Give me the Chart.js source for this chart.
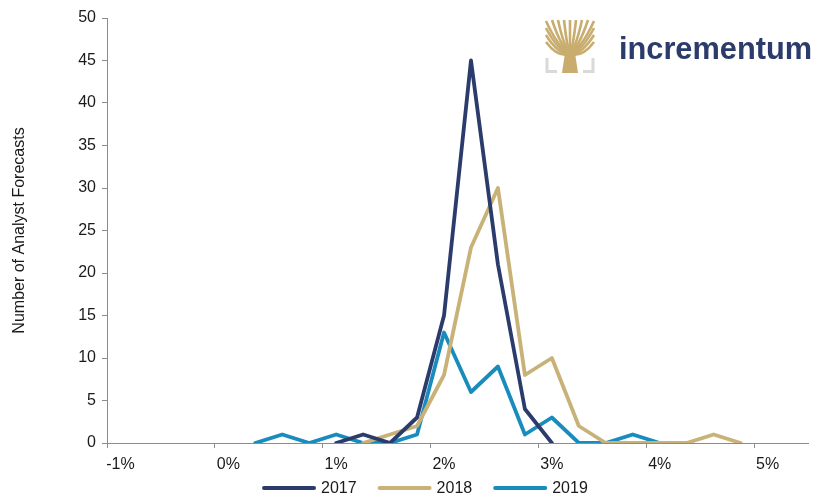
<!DOCTYPE html>
<html>
<head>
<meta charset="utf-8">
<script src="https://cdn.jsdelivr.net/npm/chart.js@4"></script>
<style>
  html, body { margin: 0; padding: 0; background: #fff; }
  #wrap { width: 819px; height: 495px; position: relative; }
</style>
</head>
<body>
<div id="wrap"><canvas id="forecastChart"></canvas></div>
<script>
// inflation forecast buckets (in %)
const buckets = [-1, -0.75, -0.5, -0.25, 0, 0.25, 0.5, 0.75, 1, 1.25, 1.5, 1.75, 2, 2.25, 2.5, 2.75,
                 3, 3.25, 3.5, 3.75, 4, 4.25, 4.5, 4.75, 5, 5.25];
const yTicks = [0, 5, 10, 15, 20, 25, 30, 35, 40, 45, 50];

const n = null;
const forecasts2017 = [n, n, n, n, n, n, n, n, 0, 1, 0, 3, 15, 45, 21, 4, 0, n, n, n, n, n, n, n, n, n];
const forecasts2018 = [n, n, n, n, n, n, n, n, n, 0, 1, 2, 8, 23, 30, 8, 10, 2, 0, 0, 0, 0, 1, 0, n, n];
const forecasts2019 = [n, n, n, n, n, 0, 1, 0, 1, 0, 0, 1, 13, 6, 9, 1, 3, 0, 0, 1, 0, n, n, n, n, n];

const seriesNames = ['2017', '2018', '2019'];
const seriesColors = ['#2b3b6b', '#c8b277', '#178cbd'];

const FONT = 'Liberation Sans, Arial, sans-serif';
const FONT_SIZE = 16;
const axisGray = '#8c8c8c';

// legend drawn below the axis (line sample + label)
const bottomLegend = {
    id: 'bottomLegend',
    afterDraw(chart) {
        const ctx = chart.ctx;
        const sets = chart.data.datasets;
        const lineW = 54, gap = 5, spacing = 21, y = 488;
        ctx.save();
        ctx.font = FONT_SIZE + 'px ' + FONT;
        ctx.textBaseline = 'middle';
        let x = 262;
        sets.forEach(function(ds) {
            ctx.strokeStyle = ds.borderColor;
            ctx.lineWidth = 4;
            ctx.lineCap = 'round';
            ctx.beginPath();
            ctx.moveTo(x + 2, y);
            ctx.lineTo(x + lineW - 2, y);
            ctx.stroke();
            x += lineW + gap;
            ctx.fillStyle = '#1a1a1a';
            ctx.fillText(ds.label, x, y + 1);
            x += ctx.measureText(ds.label).width + spacing;
        });
        ctx.restore();
    }
};

// logo drawn on top right
const logoPlugin = {
    id: 'logo',
    afterDraw(chart) {
        const ctx = chart.ctx;
        ctx.save();
        const gold = '#c8ad6e';
        ctx.strokeStyle = gold;
        ctx.fillStyle = gold;
        const cx = 570, cy = 54;
        const tips = [[546, 21], [552, 20], [558, 20], [564, 20], [570, 20], [576, 20], [582, 20], [588, 20], [594, 21],
                      [546, 28], [594, 28], [546, 35], [594, 35], [546, 42], [594, 42]];
        ctx.lineWidth = 2.6;
        tips.forEach(function(t) {
            ctx.beginPath();
            ctx.moveTo(cx, cy);
            ctx.quadraticCurveTo((cx + t[0]) / 2, (cy + t[1]) / 2 + 10, t[0], t[1]);
            ctx.stroke();
        });
        ctx.beginPath();
        ctx.moveTo(562, 73);
        ctx.lineTo(566, 46);
        ctx.lineTo(574, 46);
        ctx.lineTo(578, 73);
        ctx.closePath();
        ctx.fill();
        // gray brackets
        ctx.strokeStyle = '#d9d9d9';
        ctx.lineWidth = 3;
        ctx.beginPath();
        ctx.moveTo(547, 58); ctx.lineTo(547, 71.5); ctx.lineTo(557, 71.5);
        ctx.moveTo(593, 58); ctx.lineTo(593, 71.5); ctx.lineTo(583, 71.5);
        ctx.stroke();
        // word mark
        ctx.fillStyle = '#2b3b6b';
        ctx.font = 'bold 32px ' + FONT;
        ctx.textBaseline = 'alphabetic';
        const word = 'incrementum';
        const w = ctx.measureText(word).width;
        ctx.translate(619, 59);
        ctx.scale(193 / w, 1);
        ctx.fillText(word, 0, 0);
        ctx.restore();
    }
};

const datasets = [forecasts2017, forecasts2018, forecasts2019].map(function(values, i) {
    return {
        label: seriesNames[i],
        data: values,
        borderColor: seriesColors[i],
        backgroundColor: seriesColors[i],
        borderWidth: 3.8,
        pointRadius: 0,
        pointHoverRadius: 0,
        tension: 0,
        spanGaps: false,
        borderJoinStyle: 'round',
        borderCapStyle: 'round'
    };
});

new Chart(document.getElementById('forecastChart'), {
    type: 'line',
    data: { labels: buckets, datasets: datasets },
    plugins: [logoPlugin, bottomLegend],
    options: {
        responsive: true,
        maintainAspectRatio: false,
        animation: false,
        layout: { padding: { left: 0, right: 11, top: 18, bottom: 22 } },
        plugins: {
            tooltip: { enabled: false },
            legend: { display: false }
        },
        scales: {
            x: {
                type: 'category',
                offset: true,
                border: { color: axisGray, width: 1 },
                grid: {
                    offset: true,
                    drawOnChartArea: false,
                    drawTicks: true,
                    tickLength: 5,
                    color: function(c) { return c.index % 4 === 0 ? axisGray : 'rgba(0,0,0,0)'; }
                },
                ticks: {
                    autoSkip: false,
                    maxRotation: 0,
                    padding: 7,
                    color: '#1a1a1a',
                    font: { family: FONT, size: FONT_SIZE },
                    callback: function(val, idx) {
                        return idx % 4 === 0 ? buckets[idx] + '%' : '';
                    }
                },
                afterFit: function(scale) { scale.height = 30; }
            },
            y: {
                min: 0,
                max: 50,
                border: { color: axisGray, width: 1 },
                grid: { drawOnChartArea: false, drawTicks: true, tickLength: 5, color: axisGray },
                afterBuildTicks: function(scale) { scale.ticks = yTicks.map(function(v) { return { value: v }; }); },
                ticks: {
                    padding: 6,
                    color: '#1a1a1a',
                    font: { family: FONT, size: FONT_SIZE }
                },
                title: {
                    display: true,
                    text: 'Number of Analyst Forecasts',
                    color: '#1a1a1a',
                    font: { family: FONT, size: FONT_SIZE },
                    padding: { top: 10, bottom: 0 }
                },
                afterFit: function(scale) { scale.width = 107; }
            }
        }
    }
});
</script>
</body>
</html>
